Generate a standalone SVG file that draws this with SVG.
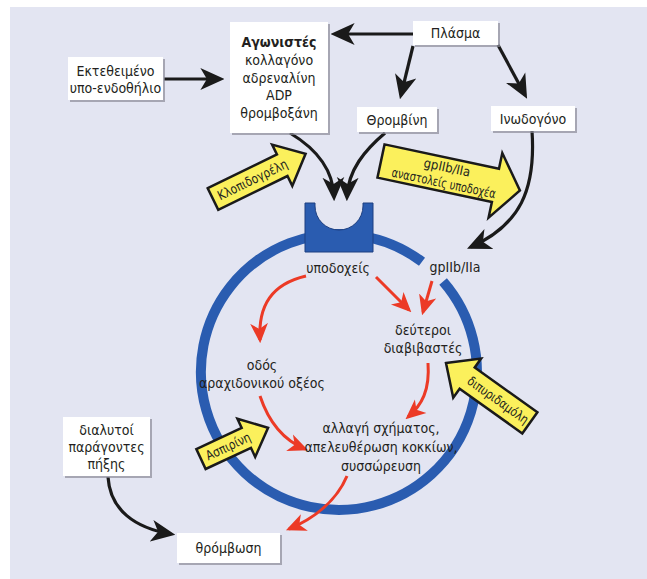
<svg xmlns="http://www.w3.org/2000/svg" width="647" height="579" viewBox="0 0 647 579">
<defs>
<style>
.t{font-family:"Liberation Sans Narrow","DejaVu Sans Condensed","Roboto Condensed","Liberation Sans",sans-serif;font-stretch:condensed;font-size:14px;fill:#231f20;text-anchor:middle}
.ty{font-family:"Liberation Sans Narrow","DejaVu Sans Condensed","Liberation Sans",sans-serif;font-stretch:condensed;font-size:13px;fill:#231f20;text-anchor:middle}
.box{fill:#ffffff}
.sh{fill:#8c8c99;opacity:0.7}
.blk{fill:none;stroke:#1a1a1a;stroke-width:3.2}
.red{fill:none;stroke:#ec3a26;stroke-width:3}
.yel{fill:#fbf05c;stroke:#1a1a1a;stroke-width:2.5;stroke-linejoin:miter}
</style>
<marker id="ab" markerUnits="userSpaceOnUse" markerWidth="24" markerHeight="24" viewBox="0 0 22 22" refX="18" refY="11" orient="auto">
<path d="M0,1 L22,11 L0,21 L6,11 Z" fill="#1a1a1a"/>
</marker>
<marker id="ar" markerUnits="userSpaceOnUse" markerWidth="20" markerHeight="20" viewBox="0 0 18 18" refX="15" refY="9" orient="auto">
<path d="M0,1 L18,9 L0,17 L5,9 Z" fill="#ec3a26"/>
</marker>
</defs>
<rect x="10" y="7" width="637" height="572" fill="#e3e5f2"/>

<g id="membrane">
<path d="M443.1,281.5 A138,138 0 1 1 422.0,261.8" fill="none" stroke="#2a5cb0" stroke-width="10"/>
</g>
<g id="receptor">
<path d="M305,203 H315 V206 A24,24 0 0 0 363,206 V203 H373 V252 H305 Z" fill="#2a5cb0" stroke="#1d3f80" stroke-width="1"/>
</g>

<g id="connectors">
<path class="blk" d="M164,79 H220" marker-end="url(#ab)"/>
<path class="blk" d="M413,34 H335" marker-end="url(#ab)"/>
<path class="blk" d="M413,46 L401,95" marker-end="url(#ab)"/>
<path class="blk" d="M498,45 L525,95" marker-end="url(#ab)"/>
<path class="blk" d="M290,133 C310,145 333,165 334,197" marker-end="url(#ab)"/>
<path class="blk" d="M385,133 C365,150 348,170 347,197" marker-end="url(#ab)"/>
<path class="blk" d="M532,131 C536,190 520,225 471,247" marker-end="url(#ab)"/>
<path class="blk" d="M108,477 C110,510 135,528 171,534" marker-end="url(#ab)"/>
<path class="red" d="M306,276 C272,284 258,305 260,340" marker-end="url(#ar)"/>
<path class="red" d="M376,277 L409,310" marker-end="url(#ar)"/>
<path class="red" d="M432,281 L423,312" marker-end="url(#ar)"/>
<path class="red" d="M428,363 C430,390 422,405 408,417" marker-end="url(#ar)"/>
<path class="red" d="M260,396 C268,420 283,440 305,449" marker-end="url(#ar)"/>
<path class="red" d="M347,476 C337,500 315,518 289,529" marker-end="url(#ar)"/>
</g>

<g id="n-subendo">
<rect class="sh" x="70" y="59" width="95" height="43"/>
<rect class="box" x="68" y="57" width="95" height="43"/>
<text class="t" x="115.5" y="76">Εκτεθειμένο</text>
<text class="t" x="115.5" y="93">υπο-ενδοθήλιο</text>
</g>
<g id="n-agonists">
<rect class="sh" x="232" y="24" width="98" height="111"/>
<rect class="box" x="230" y="22" width="98" height="111"/>
<text class="t" x="279" y="47" font-weight="bold">Αγωνιστές</text>
<text class="t" x="279" y="65">κολλαγόνο</text>
<text class="t" x="279" y="83">αδρεναλίνη</text>
<text class="t" x="279" y="100">ADP</text>
<text class="t" x="279" y="118">θρομβοξάνη</text>
</g>
<g id="n-plasma">
<rect class="sh" x="415" y="23" width="85" height="24"/>
<rect class="box" x="413" y="21" width="85" height="24"/>
<text class="t" x="455.5" y="38">Πλάσμα</text>
</g>
<g id="n-thrombin">
<rect class="sh" x="359" y="109" width="80" height="25"/>
<rect class="box" x="357" y="107" width="80" height="25"/>
<text class="t" x="397" y="125">Θρομβίνη</text>
</g>
<g id="n-fibrinogen">
<rect class="sh" x="493" y="108" width="84" height="25"/>
<rect class="box" x="491" y="106" width="84" height="25"/>
<text class="t" x="533" y="124">Ινωδογόνο</text>
</g>
<g id="n-factors">
<rect class="sh" x="65" y="419" width="87" height="59"/>
<rect class="box" x="63" y="417" width="87" height="59"/>
<text class="t" x="106.5" y="435">διαλυτοί</text>
<text class="t" x="106.5" y="452">παράγοντες</text>
<text class="t" x="106.5" y="469">πήξης</text>
</g>
<g id="n-thrombosis">
<rect class="sh" x="179" y="535" width="103" height="30"/>
<rect class="box" x="177" y="533" width="103" height="30"/>
<text class="t" x="228.5" y="553">θρόμβωση</text>
</g>

<g id="n-receptors"><text class="t" x="338" y="273">υποδοχείς</text></g>
<g id="n-gp"><text class="t" x="455" y="272">gpIIb/IIa</text></g>
<g id="n-second"><text class="t" x="423" y="335">δεύτεροι</text><text class="t" x="423" y="353">διαβιβαστές</text></g>
<g id="n-arach"><text class="t" x="262" y="370">οδός</text><text class="t" x="262" y="388">αραχιδονικού οξέος</text></g>
<g id="n-shape"><text class="t" x="381" y="433">αλλαγή σχήματος,</text><text class="t" x="381" y="452">απελευθέρωση κοκκίων,</text><text class="t" x="381" y="471">συσσώρευση</text></g>

<g id="d-clopidogrel" transform="translate(213,199) rotate(-26)">
<path class="yel" d="M0,-12 H77 V-23 L103,0 L77,23 V12 H0 Z"/>
<text class="ty" x="44" y="4.5" textLength="76" lengthAdjust="spacingAndGlyphs">Κλοπιδογρέλη</text>
</g>
<g id="d-gp" transform="translate(381,161) rotate(12)">
<path class="yel" d="M0,-17 H117 V-33 L142,0 L117,33 V17 H0 Z"/>
<text class="ty" x="66" y="-3">gpIIb/IIa</text>
<text class="ty" x="66" y="13" textLength="106" lengthAdjust="spacingAndGlyphs">αναστολείς υποδοχέα</text>
</g>
<g id="d-dipyridamole" transform="translate(446,363) rotate(35.5)">
<path class="yel" d="M0,0 L26,-24 V-13 H103 V13 H26 V24 Z"/>
<text class="ty" x="64" y="4.5" textLength="72" lengthAdjust="spacingAndGlyphs">διπυριδαμόλη</text>
</g>
<g id="d-aspirin" transform="translate(201,459) rotate(-25)">
<path class="yel" d="M0,-11 H50 V-21 L74,0 L50,21 V11 H0 Z"/>
<text class="ty" x="30" y="4.5" textLength="48" lengthAdjust="spacingAndGlyphs">Ασπιρίνη</text>
</g>
</svg>
